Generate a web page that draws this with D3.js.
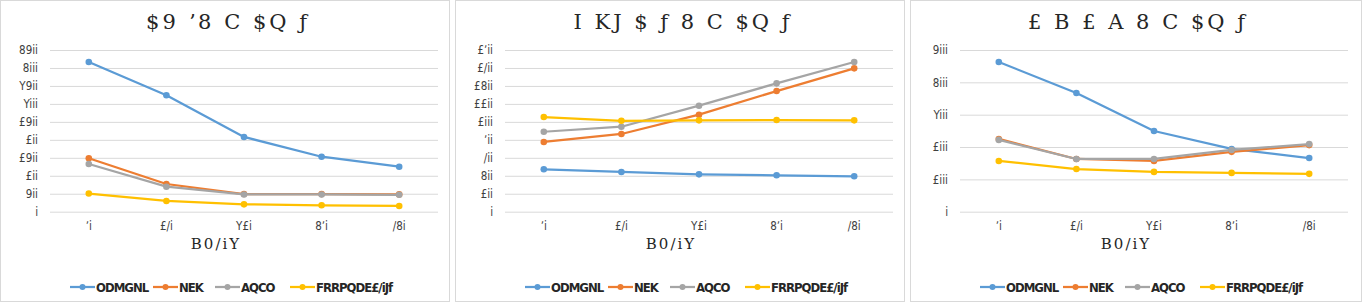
<!DOCTYPE html>
<html><head><meta charset="utf-8">
<script src="https://cdn.jsdelivr.net/npm/d3@7"></script>
<style>
html,body{margin:0;padding:0;background:#fff;}
svg{display:block;}
</style></head>
<body>
<svg id="chart" width="1362" height="302"></svg>
<script>
// ---- data ----
const categories = [80, 160, 320, 480, 640];
const categoryLabels = ["ʼi", "£/i", "Y£i", "8ʼi", "/8i"];
const seriesNames = ["ODMGNL", "NEK", "AQCO", "FRRPQDE£/iJf"];
const seriesColors = ["#5B9BD5", "#ED7D31", "#A5A5A5", "#FFC000"];
const titles = ["$9  ʼ8 C $Q ƒ", "I KJ $ ƒ 8 C $Q ƒ", "£ B £ A 8 C $Q ƒ"];
const xAxisTitle = "B0/iY";

// panel 1
const p1Blue = [4165, 3240, 2080, 1530, 1252];
const p1Orange = [1486, 771, 492, 490, 482];
const p1Gray = [1327, 696, 480, 480, 470];
const p1Yellow = [505, 298, 205, 178, 159];
const p1Ticks = [0, 500, 1000, 1500, 2000, 2500, 3000, 3500, 4000, 4500];
const p1TickLabels = ["i", "9ii", "£ii", "£9ii", "£ii", "£9ii", "Yiii", "Y9ii", "8iii", "89ii"];

// panel 2
const p2Blue = [472, 442, 416, 405, 394];
const p2Orange = [776, 865, 1080, 1343, 1596];
const p2Gray = [890, 946, 1180, 1429, 1666];
const p2Yellow = [1054, 1012, 1017, 1020, 1017];
const p2Ticks = [0, 200, 400, 600, 800, 1000, 1200, 1400, 1600, 1800];
const p2TickLabels = ["i", "£ii", "8ii", "/ii", "ʼii", "£iii", "££ii", "£8ii", "£/ii", "£ʼii"];

// panel 3
const p3Blue = [4630, 3670, 2496, 1940, 1660];
const p3Orange = [2250, 1630, 1570, 1850, 2060];
const p3Gray = [2220, 1630, 1630, 1910, 2090];
const p3Yellow = [1570, 1320, 1230, 1200, 1170];
const p3Ticks = [0, 1000, 2000, 3000, 4000, 5000];
const p3TickLabels = ["i", "£iii", "£iii", "Yiii", "8iii", "9iii"];

const panels = [
  {series: [p1Blue, p1Orange, p1Gray, p1Yellow], ticks: p1Ticks, labels: p1TickLabels, max: 4500},
  {series: [p2Blue, p2Orange, p2Gray, p2Yellow], ticks: p2Ticks, labels: p2TickLabels, max: 1800},
  {series: [p3Blue, p3Orange, p3Gray, p3Yellow], ticks: p3Ticks, labels: p3TickLabels, max: 5000}
];

const svg = d3.select("#chart");
const panelW = 450, gap = 5;
const tickFont = "'Liberation Sans Narrow','DejaVu Sans Condensed',sans-serif";

panels.forEach((p, i) => {
  const x0 = i * (panelW + gap);
  const g = svg.append("g").attr("transform", `translate(${x0},0)`);
  g.append("rect").attr("x", 0.5).attr("y", 0.5).attr("width", panelW - 1 + (i === 2 ? 2 : 0)).attr("height", 301)
    .attr("fill", "#fff").attr("stroke", "#d9d9d9");

  const left = 50, right = 438, top = 50, bottom = 211.7;
  const x = d3.scaleBand().domain(categories).range([left, right]);
  const y = d3.scaleLinear().domain([0, p.max]).range([bottom, top]);

  // title
  g.append("text").attr("x", 228).attr("y", 29).attr("text-anchor", "middle")
    .attr("font-family", "'DejaVu Serif',serif").attr("font-size", 21).attr("fill", "#262626")
    .attr("letter-spacing", 3).text(titles[i]);

  // grid
  const yAxis = d3.axisLeft(y).tickValues(p.ticks).tickSize(-(right - left))
    .tickFormat((d, k) => p.labels[k]);
  const ya = g.append("g").attr("transform", `translate(${left},0)`).call(yAxis);
  ya.select(".domain").remove();
  ya.selectAll(".tick line").attr("stroke", "#d9d9d9").attr("stroke-width", 1);
  ya.selectAll(".tick text").attr("x", -12).attr("fill", "#404040")
    .attr("font-family", tickFont).attr("font-size", 11.5);

  const xAxis = d3.axisBottom(x).tickSize(0).tickFormat((d, k) => categoryLabels[k]);
  const xa = g.append("g").attr("transform", `translate(0,${bottom})`).call(xAxis);
  xa.select(".domain").remove();
  xa.selectAll(".tick text").attr("dy", 0).attr("y", 18).attr("fill", "#404040")
    .attr("font-family", tickFont).attr("font-size", 11.5);

  g.append("text").attr("x", 216).attr("y", 249).attr("text-anchor", "middle")
    .attr("font-family", "'DejaVu Serif',serif").attr("font-size", 15).attr("fill", "#262626")
    .attr("letter-spacing", 2).text(xAxisTitle);

  const line = d3.line().x((d, k) => x(categories[k]) + x.bandwidth() / 2).y(d => y(d));
  p.series.forEach((s, si) => {
    g.append("path").datum(s).attr("d", line).attr("fill", "none")
      .attr("stroke", seriesColors[si]).attr("stroke-width", 2.25).attr("stroke-linejoin", "round");
    g.selectAll(null).data(s).enter().append("circle")
      .attr("cx", (d, k) => x(categories[k]) + x.bandwidth() / 2).attr("cy", d => y(d))
      .attr("r", 3.3).attr("fill", seriesColors[si]);
  });

  // legend
  const legX = [70, 153, 215, 290];
  seriesNames.forEach((n, si) => {
    const lg = g.append("g").attr("transform", `translate(${legX[si]},287)`);
    lg.append("line").attr("x1", 0).attr("x2", 25).attr("y1", 0).attr("y2", 0)
      .attr("stroke", seriesColors[si]).attr("stroke-width", 2.25);
    lg.append("circle").attr("cx", 12.5).attr("cy", 0).attr("r", 3).attr("fill", seriesColors[si]);
    lg.append("text").attr("x", 26).attr("y", 5).attr("font-family", tickFont)
      .attr("font-size", 13).attr("font-weight", "bold").attr("fill", "#262626")
      .attr("letter-spacing", -1).text(n);
  });
});
</script>
</body></html>
